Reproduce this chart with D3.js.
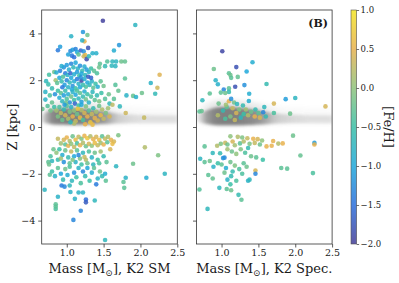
<!DOCTYPE html>
<html>
<head>
<meta charset="utf-8">
<script src="https://cdn.jsdelivr.net/npm/d3@7"></script>
<style>
  body { margin: 0; background: #fff; }
  svg text { font-family: "DejaVu Serif", serif; fill: #1a1a1a; }
</style>
</head>
<body>
<div id="chart"></div>
<script>
// [mass, Z, [Fe/H]] for the K2 SM panel
var smStars = [
  [1.49,4.54,-1.95],[1.93,4.36,-0.75],[1.22,4.06,-1.15],[1.06,3.88,-0.8],[1.28,3.93,-0.2],[1.24,3.66,0.5],
  [1.21,3.70,-0.85],[1.71,3.50,-1.15],[1.64,3.27,-0.9],[0.91,3.43,-1.1],[0.88,3.28,-1.4],[1.29,3.38,-1.8],
  [1.05,3.25,-1.3],[1.08,3.30,-1.1],[1.12,3.33,-1.35],[1.14,3.20,-1.0],[1.19,3.27,-1.6],[1.23,3.23,-1.2],
  [1.35,3.15,-0.85],[1.40,3.15,-0.85],[1.25,3.07,0.55],[1.23,3.02,0.35],[1.27,2.90,-1.85],[1.07,3.05,-1.45],
  [1.10,2.98,-1.5],[1.16,3.10,-0.3],[1.02,3.10,-1.05],[1.30,3.02,-0.7],
  [1.62,2.80,-0.7],[1.67,2.80,-0.75],[1.74,2.80,-0.2],[1.79,2.80,-0.25],[1.55,2.80,-0.35],[1.45,2.70,-0.3],
  [1.52,2.60,-0.6],[1.61,2.62,-0.7],[1.66,2.60,-0.75],[2.26,2.23,0.45],[2.14,1.88,-0.8],[2.23,1.68,0.35],
  [2.20,1.42,-0.65],[1.79,2.07,-0.3],[2.02,1.45,-0.2],[1.90,1.33,-0.25],[1.94,1.28,-0.85],[1.81,1.35,-0.8],
  [1.70,1.55,-0.25],[1.66,1.80,-0.35],[1.64,1.20,-0.3],[1.58,1.00,-0.65],[1.62,0.95,0.25],[1.72,0.88,-0.7],
  [1.80,0.60,0.35],[2.05,0.40,0.3],[1.57,1.40,-0.2],[1.52,1.20,-0.35],
  [0.67,0.77,-0.2],[0.71,1.50,-0.8],[0.71,1.17,-0.8],[0.72,1.96,-0.7],[0.76,2.23,-0.45],[0.75,1.82,-0.55],
  [0.77,1.35,-0.4],[0.80,1.65,-0.6],[0.80,1.05,-0.25],[0.74,0.90,-0.35],[0.83,2.35,-0.2],[0.85,2.00,0.1],
  [0.87,1.88,-0.3],[0.86,2.33,-0.9],[0.84,1.40,-1.2],[0.83,0.85,-0.5],[0.78,0.70,-0.15],
  [0.96,2.55,-1.2],[1.00,2.65,-1.1],[1.03,2.45,-0.9],[1.06,2.70,-1.3],[1.09,2.55,-0.7],[1.12,2.75,-1.0],
  [1.15,2.50,-0.8],[1.18,2.62,-1.2],[1.21,2.40,-0.6],[1.24,2.58,-0.9],[1.27,2.45,-1.1],[1.30,2.35,-0.8],
  [1.33,2.50,-0.5],[1.37,2.40,-0.3],[1.41,2.30,-0.4],[0.98,2.30,-1.4],[1.01,2.22,-0.8],[1.05,2.30,-1.6],
  [1.10,2.25,-0.9],[1.14,2.35,-1.1],[1.17,2.20,-0.5],[1.20,2.28,-1.0],[1.25,2.22,-0.7],[1.29,2.15,-1.7],
  [0.93,2.60,-0.9],[0.91,2.40,-1.3],[1.44,2.55,-0.2],
  [0.90,2.10,-1.0],[0.93,1.95,-0.6],[0.95,2.15,-0.4],[0.97,1.80,-1.1],[1.00,2.00,-1.3],[1.02,1.70,-0.8],
  [1.04,1.90,-0.7],[1.06,2.10,-1.0],[1.08,1.75,-1.2],[1.10,1.95,-0.9],[1.12,1.65,-0.5],[1.14,2.05,-1.4],
  [1.16,1.85,-0.8],[1.18,1.70,-1.0],[1.20,1.98,-1.9],[1.22,1.80,-0.6],[1.24,2.05,-0.9],[1.26,1.72,-0.4],
  [1.28,1.90,-1.0],[1.31,1.80,-0.7],[1.34,1.95,-0.8],[1.36,1.68,-0.3],[1.39,1.85,-0.5],[1.42,1.72,-0.9],
  [1.46,1.95,-0.3],[1.50,1.75,-0.2],[0.94,1.70,-1.4],[1.07,1.60,-1.0],[1.19,2.12,-1.2],[1.33,2.10,-1.6],
  [0.88,1.55,-0.5],[0.90,1.25,-0.9],[0.92,1.45,-0.3],[0.94,1.10,-0.7],[0.96,1.35,-1.1],[0.98,1.55,-0.6],
  [1.00,1.20,-0.4],[1.02,1.40,-0.9],[1.04,1.05,-1.2],[1.06,1.30,-0.2],[1.08,1.50,-0.8],[1.10,1.15,-0.5],
  [1.12,1.38,-1.0],[1.14,1.55,-0.4],[1.16,1.22,-0.7],[1.18,1.45,-0.3],[1.20,1.08,-1.1],[1.22,1.30,-0.6],
  [1.24,1.52,-0.9],[1.26,1.18,-0.2],[1.28,1.40,-0.5],[1.30,1.05,-0.8],[1.33,1.30,-0.4],[1.35,1.50,-0.7],
  [1.38,1.15,-0.3],[1.41,1.35,-0.6],[1.44,1.10,-0.1],[1.47,1.45,-0.5],[1.11,1.00,-1.6],[0.99,1.02,-0.2],
  [0.86,0.70,0.1],[0.88,0.45,-0.1],[0.90,0.85,-0.4],[0.92,0.60,0.3],[0.94,0.30,-0.2],[0.96,0.75,-0.6],
  [0.98,0.50,0.4],[1.00,0.90,-0.3],[1.02,0.35,0.2],[1.04,0.65,-0.1],[1.06,0.85,-0.8],[1.08,0.45,0.5],
  [1.10,0.70,0.0],[1.12,0.25,0.3],[1.14,0.55,-0.2],[1.16,0.92,-0.5],[1.18,0.40,0.6],[1.20,0.72,0.2],
  [1.22,0.30,-0.4],[1.24,0.60,0.4],[1.26,0.88,-0.1],[1.28,0.45,0.5],[1.30,0.70,-0.3],[1.32,0.20,0.7],
  [1.34,0.55,0.3],[1.36,0.80,-0.6],[1.38,0.38,0.5],[1.40,0.65,0.1],[1.42,0.28,0.4],[1.44,0.90,-0.2],
  [1.46,0.50,0.6],[1.48,0.75,0.2],[1.50,0.35,0.3],[1.53,0.60,-0.1],[1.56,0.80,0.1],[1.58,0.45,0.4],
  [1.10,0.15,0.2],[1.25,0.12,0.5],[1.05,0.20,-0.7],[1.20,0.95,-1.0],[1.35,0.10,0.6],[0.97,0.95,-1.1],[1.15,0.78,0.7],
  [0.96,-0.55,0.4],[1.00,-0.45,0.5],[1.04,-0.60,0.2],[1.08,-0.40,-0.2],[1.12,-0.55,0.6],[1.16,-0.42,0.3],
  [1.20,-0.50,-0.1],[1.24,-0.38,0.5],[1.28,-0.48,0.7],[1.32,-0.40,0.2],[1.36,-0.52,0.5],[1.40,-0.42,0.4],
  [1.44,-0.55,0.6],[1.48,-0.40,-0.3],[1.52,-0.50,0.3],[1.56,-0.42,0.2],[1.60,-0.55,0.5],[1.64,-0.62,0.4],
  [1.70,-0.35,-0.1],[0.88,-0.50,0.3],[0.92,-0.70,0.1],[0.98,-0.75,-0.3],[1.02,-0.80,0.5],[1.06,-0.72,0.0],
  [1.10,-0.85,0.3],[1.14,-0.70,-0.4],[1.18,-0.78,0.5],[1.22,-0.68,0.2],[1.26,-0.82,-0.2],[1.30,-0.72,0.4],
  [1.34,-0.80,0.0],[1.38,-0.68,0.6],[1.42,-0.78,0.3],[1.46,-0.68,0.1],[1.50,-0.75,0.5],[1.55,-0.65,-0.3],
  [1.62,-0.72,0.6],[2.06,-0.87,0.2],[1.59,-0.95,0.4],
  [0.82,-0.95,-0.2],[0.86,-1.10,0.0],[0.90,-0.95,-0.5],[0.94,-1.20,-0.9],[0.98,-1.00,-0.2],[1.02,-1.30,-0.6],
  [1.06,-1.05,0.3],[1.10,-1.25,-1.0],[1.14,-1.00,-0.3],[1.18,-1.35,-0.1],[1.22,-1.10,-0.7],[1.26,-1.40,0.2],
  [1.30,-1.05,-0.4],[1.34,-1.30,-0.8],[1.38,-1.10,-0.2],[1.42,-1.40,-0.5],[1.46,-1.05,0.1],[1.50,-1.25,-0.6],
  [1.54,-1.50,-0.3],[0.78,-1.25,-0.4],[0.75,-1.50,-0.3],[0.80,-1.45,-0.7],[0.88,-1.40,-0.6],[0.96,-1.50,-1.2],
  [1.04,-1.55,-0.3],[1.12,-1.50,-0.8],[1.20,-1.60,-0.5],[1.28,-1.55,-0.2],[1.36,-1.60,-0.7],[1.44,-1.55,-0.4],
  [0.92,-1.35,0.1],[1.08,-1.40,-0.1],[1.16,-1.20,-1.3],[1.24,-1.28,0.3],[1.67,-1.68,-0.75],[1.90,-1.57,-0.2],
  [2.24,-1.21,-0.1],[0.76,-1.60,-0.2],
  [0.77,-2.04,-0.3],[0.80,-1.90,-0.5],[0.84,-2.10,-0.8],[0.88,-1.75,-0.3],[0.92,-2.00,-1.0],[0.95,-2.25,-0.6],
  [0.98,-1.80,-0.2],[1.01,-2.05,-0.9],[1.04,-1.70,-0.4],[1.07,-2.30,-0.7],[1.10,-1.95,-1.2],[1.13,-2.15,-0.5],
  [1.16,-1.75,-0.8],[1.19,-2.40,-0.4],[1.22,-1.90,-1.3],[1.25,-2.10,-0.6],[1.28,-1.75,-1.0],[1.31,-2.30,-0.5],
  [1.34,-1.95,-0.9],[1.37,-1.75,-0.3],[1.40,-2.45,-1.4],[1.42,-2.20,-0.8],[1.45,-1.90,-0.2],[1.48,-2.10,-0.6],
  [1.52,-2.00,-0.9],[1.53,-2.30,-0.3],[1.77,-2.35,-0.3],[1.78,-2.60,-0.3],[1.80,-2.17,-0.8],[2.08,-2.17,-0.9],
  [2.33,-2.00,-0.75],[0.93,-2.50,-1.4],[0.97,-2.55,-1.3],[1.04,-2.50,-0.7],[1.05,-2.78,-0.8],[1.16,-2.80,-0.8],
  [1.22,-2.80,-0.8],[0.70,-2.68,-0.75],[0.88,-2.98,-0.8],
  [0.85,-3.30,-0.3],[0.85,-3.50,-0.4],[0.85,-3.40,-0.3],[1.11,-3.07,-0.8],[1.26,-3.10,-1.5],[1.26,-3.22,-1.7],
  [1.38,-3.14,-0.7],[1.19,-3.58,-1.3],[1.09,-3.97,-1.3],[1.52,-4.83,-0.7]
];

// [mass, Z, [Fe/H]] for the K2 Spec. panel
var specStars = [
  [1.01,3.24,-1.9],[1.42,2.77,-0.9],[1.20,2.56,-1.8],[0.895,2.48,-0.2],[1.34,2.37,-1.0],[1.10,2.30,-0.3],
  [1.12,2.22,-0.2],[1.13,2.10,-0.3],[1.22,2.14,-0.25],[0.92,2.00,-0.8],[0.95,1.83,-0.85],[1.185,1.72,-1.8],
  [1.31,1.79,-1.2],[1.61,1.84,-0.6],[1.03,1.60,-1.3],[1.10,1.65,-0.3],[1.10,1.50,-0.6],[1.375,1.42,-0.9],
  [0.84,1.43,-0.3],[0.74,1.14,-0.7],[1.05,1.45,-0.2],[0.99,1.47,-0.3],[1.87,1.19,-1.1],[2.00,1.24,-0.75],
  [1.71,1.00,0.4],[1.37,1.11,-0.9],[1.10,1.10,0.5],[1.13,1.20,-1.2],[0.96,1.00,-0.2],[1.17,1.05,-0.2],
  [1.21,0.98,-0.7],[1.29,0.92,-0.6],[1.58,0.85,-0.7],[1.565,0.63,-1.3],[1.71,0.60,-0.4],[1.93,0.57,-0.2],
  [0.70,0.66,-0.3],[0.73,0.68,-0.25],[2.41,0.88,0.4],[1.07,0.85,-0.3],[1.15,0.80,0.3],[1.24,0.75,-0.1],
  [1.02,0.70,-0.6],[1.20,0.60,0.4],[1.30,0.55,-0.5],[1.36,0.50,0.2],[1.45,0.45,0.5],[1.40,0.65,-0.2],
  [1.26,0.40,-0.7],[1.33,0.75,0.1],[1.12,0.45,-0.1],[1.50,0.60,-0.3],[1.52,0.40,0.4],[1.60,0.45,-0.6],
  [0.95,0.50,0.2],[1.05,0.35,-0.4],[1.18,0.30,0.3],[1.46,0.75,-0.6],[1.06,0.95,0.1],
  [1.97,-0.37,-0.2],[1.12,-0.40,0.0],[1.22,-0.42,0.2],[1.28,-0.45,-0.1],[1.35,-0.48,0.3],[1.43,-0.50,0.5],
  [1.49,-0.52,0.4],[1.55,-0.58,0.0],[1.70,-0.60,0.5],[1.77,-0.71,0.2],[1.61,-0.83,0.5],[0.77,-0.83,-0.3],
  [0.94,-0.80,0.2],[0.99,-0.72,-0.1],[1.05,-0.68,0.3],[1.08,-0.75,-0.2],[1.15,-0.62,0.4],[1.18,-0.78,0.1],
  [1.25,-0.70,-0.3],[1.30,-0.62,0.2],[1.38,-0.72,-0.1],[1.45,-0.68,0.3],[1.52,-0.75,-0.2],[0.88,-1.11,-0.7],
  [0.98,-1.12,-0.6],[1.04,-1.31,-1.3],[1.08,-0.95,0.1],[1.14,-1.05,-0.2],[1.20,-1.15,0.0],[1.26,-0.95,-0.1],
  [1.32,-1.10,-0.4],[1.36,-0.90,-0.6],[1.40,-1.25,-0.2],[0.71,-1.36,-0.75],[0.77,-1.50,-0.3],[0.84,-1.45,-0.2],
  [0.89,-1.70,-0.8],[1.02,-1.33,-1.2],[0.95,-1.55,-0.5],[1.00,-1.60,-0.3],[1.06,-1.75,-0.9],[1.12,-1.50,-0.2],
  [1.18,-1.65,-0.1],[1.24,-1.80,-0.4],[1.30,-1.55,-0.3],[1.46,-1.86,0.4],[1.46,-2.00,-1.3],[1.56,-1.40,-0.5],
  [1.47,-1.30,-0.3],[1.81,-1.75,-0.3],[2.07,-1.22,-0.25],[2.24,-1.97,-0.4],[2.26,-0.68,-1.1],[2.26,-0.75,0.5],
  [1.83,-0.70,0.5],[1.68,-0.80,0.5],[1.89,-1.78,-0.3],[0.70,-2.67,-0.35],[0.81,-3.50,-0.7],[1.27,-3.11,-0.3],
  [1.23,-2.90,-0.6],[0.97,-2.60,-0.7],[1.07,-2.65,-0.3],[1.13,-2.70,-0.2],[1.12,-2.45,-0.5],[1.20,-2.30,-0.4],
  [1.36,-2.30,-0.8],[1.38,-2.25,-0.7],[1.13,-2.10,-0.6],[1.04,-1.95,-0.2],[1.08,-2.25,-0.8],[0.82,-2.05,-0.3],
  [0.88,-2.20,-0.25],[1.28,-2.00,-0.4],[1.15,-1.90,-0.6],[1.34,-1.70,-0.2]
];

// grey background sample (all stars), described as a band in Z per mass
var cloudMass      = [0.66, 0.72, 0.80, 0.90, 1.00, 1.10, 1.20, 1.30, 1.40, 1.50, 1.60, 1.70, 1.80, 2.00, 2.20, 2.40, 2.50];
var smCloudTop     = [0.50, 0.65, 0.75, 0.80, 0.80, 0.80, 0.78, 0.75, 0.72, 0.68, 0.62, 0.58, 0.55, 0.52, 0.50, 0.50, 0.50];
var smCloudBottom  = [0.22, 0.15, 0.12, 0.10, 0.10, 0.10, 0.10, 0.10, 0.12, 0.12, 0.14, 0.15, 0.15, 0.16, 0.16, 0.16, 0.16];
var smCloudDensity = [0.15, 0.55, 0.90, 1.00, 1.00, 1.00, 1.00, 0.95, 0.90, 0.78, 0.55, 0.35, 0.28, 0.22, 0.22, 0.22, 0.22];
var spCloudTop     = [0.55, 0.62, 0.72, 0.82, 0.86, 0.86, 0.84, 0.80, 0.76, 0.72, 0.66, 0.60, 0.56, 0.52, 0.50, 0.50, 0.50];
var spCloudBottom  = [0.25, 0.18, 0.12, 0.08, 0.07, 0.07, 0.07, 0.08, 0.09, 0.10, 0.12, 0.14, 0.15, 0.16, 0.16, 0.16, 0.16];
var spCloudDensity = [0.10, 0.30, 0.72, 0.95, 1.00, 1.00, 1.00, 0.95, 0.90, 0.82, 0.65, 0.42, 0.32, 0.25, 0.22, 0.22, 0.22];

var fehStops  = [-2.0, -1.5, -1.0, -0.5, 0.0, 0.5, 1.0];
var fehColors = ["#453d97", "#2c6fdc", "#1fa8da", "#3abfa6", "#8fc37c", "#e7b14e", "#f3e523"];
var xTicks = [1.0, 1.5, 2.0, 2.5];
var yTicks = [-4, -2, 0, 2, 4];
var cbTicks = [-2.0, -1.5, -1.0, -0.5, 0.0, 0.5, 1.0];

var width = 399, height = 283;
var plotTop = 10, plotBottom = 244;
var panelW = 135.6;

var svg = d3.select("#chart").append("svg")
    .attr("width", width)
    .attr("height", height);
var defs = svg.append("defs");

var y = d3.scaleLinear().domain([-5, 5]).range([plotBottom, plotTop]);
var color = d3.scaleLinear().domain(fehStops).range(fehColors).clamp(true);
var fmtNum = function(d) { return d3.format(".1f")(d).replace("-", "\u2212"); };
var fmtInt = function(d) { return d3.format("d")(d).replace("-", "\u2212"); };

defs.append("filter").attr("id", "blur")
    .attr("x", "-10%").attr("y", "-50%").attr("width", "120%").attr("height", "200%")
  .append("feGaussianBlur").attr("stdDeviation", 1.4);
defs.append("filter").attr("id", "blur2")
    .attr("x", "-10%").attr("y", "-80%").attr("width", "120%").attr("height", "260%")
  .append("feGaussianBlur").attr("stdDeviation", 2.5);

function drawPanel(id, left, stars, cTop, cBot, cDens, showY, xLabel) {
  var x = d3.scaleLinear().domain([0.66, 2.5]).range([left, left + panelW]);

  defs.append("clipPath").attr("id", "clip-" + id)
    .append("rect").attr("x", left).attr("y", plotTop).attr("width", panelW).attr("height", plotBottom - plotTop);

  var grad = defs.append("linearGradient").attr("id", "grad-" + id)
      .attr("gradientUnits", "userSpaceOnUse")
      .attr("x1", x(cloudMass[0])).attr("x2", x(cloudMass[cloudMass.length - 1]))
      .attr("y1", 0).attr("y2", 0);
  cloudMass.forEach(function(m, i) {
    grad.append("stop")
      .attr("offset", (m - cloudMass[0]) / (cloudMass[cloudMass.length - 1] - cloudMass[0]))
      .attr("stop-color", "#808080")
      .attr("stop-opacity", cDens[i]);
  });

  var g = svg.append("g").attr("clip-path", "url(#clip-" + id + ")");

  // faint halo above the band
  var halo = d3.area()
      .x(function(d, i) { return x(cloudMass[i]); })
      .y0(function(d, i) { return y(cBot[i]); })
      .y1(function(d, i) { return y(cTop[i] + 0.3); })
      .curve(d3.curveBasis);
  g.append("path").datum(cloudMass).attr("d", halo)
      .attr("fill", "url(#grad-" + id + ")").attr("opacity", 0.2).attr("filter", "url(#blur2)");

  var band = d3.area()
      .x(function(d, i) { return x(cloudMass[i]); })
      .y0(function(d, i) { return y(cBot[i]); })
      .y1(function(d, i) { return y(cTop[i]); })
      .curve(d3.curveBasis);
  g.append("path").datum(cloudMass).attr("d", band)
      .attr("fill", "url(#grad-" + id + ")").attr("filter", "url(#blur)");

  g.selectAll("circle.star")
      .data(stars)
    .enter().append("circle")
      .attr("class", "star")
      .attr("cx", function(d) { return x(d[0]); })
      .attr("cy", function(d) { return y(d[1]); })
      .attr("r", 2.3)
      .style("fill", function(d) { return color(d[2]); })
      .style("opacity", 0.85);

  // frame
  svg.append("rect")
      .attr("x", left).attr("y", plotTop).attr("width", panelW).attr("height", plotBottom - plotTop)
      .attr("fill", "none").attr("stroke", "#333").attr("stroke-width", 0.8);

  var xAxis = svg.append("g")
      .attr("transform", "translate(0," + plotBottom + ")")
      .call(d3.axisBottom(x).tickValues(xTicks).tickFormat(fmtNum).tickSize(3.5).tickPadding(2));
  xAxis.select(".domain").remove();
  xAxis.selectAll("line").attr("stroke", "#333").attr("stroke-width", 0.8);
  xAxis.selectAll("text").style("font-size", "9.5px").style("font-family", "DejaVu Serif").attr("fill", "#1a1a1a");

  var yAxis = svg.append("g")
      .attr("transform", "translate(" + left + ",0)")
      .call(d3.axisLeft(y).tickValues(yTicks).tickFormat(showY ? fmtInt : "").tickSize(3.5).tickPadding(3));
  yAxis.select(".domain").remove();
  yAxis.selectAll("line").attr("stroke", "#333").attr("stroke-width", 0.8);
  yAxis.selectAll("text").style("font-size", "9.5px").style("font-family", "DejaVu Serif").attr("fill", "#1a1a1a");

  var lab = svg.append("text")
      .attr("x", left + panelW / 2).attr("y", 273)
      .attr("text-anchor", "middle")
      .style("font-size", "13px");
  lab.append("tspan").text("Mass [M");
  lab.append("tspan").attr("dy", 3).style("font-size", "9px").text("\u2299");
  lab.append("tspan").attr("dy", -3).text("], " + xLabel);
}

drawPanel("sm", 41.7, smStars, smCloudTop, smCloudBottom, smCloudDensity, true, "K2 SM");
drawPanel("sp", 196.5, specStars, spCloudTop, spCloudBottom, spCloudDensity, false, "K2 Spec.");

svg.append("text")
    .attr("transform", "translate(17," + (plotTop + plotBottom) / 2 + ") rotate(-90)")
    .attr("text-anchor", "middle")
    .style("font-size", "13px")
    .text("Z [kpc]");

svg.append("text")
    .attr("x", 328).attr("y", 27)
    .attr("text-anchor", "end")
    .style("font-size", "11px")
    .style("font-weight", "bold")
    .text("(B)");

// colorbar
var cbLeft = 351, cbW = 5.6;
var cbY = d3.scaleLinear().domain([-2, 1]).range([plotBottom, plotTop]);
var cbGrad = defs.append("linearGradient").attr("id", "cbgrad")
    .attr("x1", 0).attr("x2", 0).attr("y1", 1).attr("y2", 0);
fehStops.forEach(function(v, i) {
  cbGrad.append("stop").attr("offset", (v + 2) / 3).attr("stop-color", fehColors[i]);
});
svg.append("rect")
    .attr("x", cbLeft).attr("y", plotTop).attr("width", cbW).attr("height", plotBottom - plotTop)
    .attr("fill", "url(#cbgrad)").attr("opacity", 0.85)
    .attr("stroke", "#333").attr("stroke-width", 0.6);
var cbAxis = svg.append("g")
    .attr("transform", "translate(" + (cbLeft + cbW) + ",0)")
    .call(d3.axisRight(cbY).tickValues(cbTicks).tickFormat(fmtNum).tickSize(2.5).tickPadding(1.5));
cbAxis.select(".domain").remove();
cbAxis.selectAll("line").attr("stroke", "#333").attr("stroke-width", 0.7);
cbAxis.selectAll("text").style("font-size", "8.5px").style("font-family", "DejaVu Serif").attr("fill", "#1a1a1a");

svg.append("text")
    .attr("transform", "translate(384," + (plotTop + plotBottom) / 2 + ") rotate(90)")
    .attr("text-anchor", "middle")
    .style("font-size", "13px")
    .text("[Fe/H]");
</script>
</body>
</html>
